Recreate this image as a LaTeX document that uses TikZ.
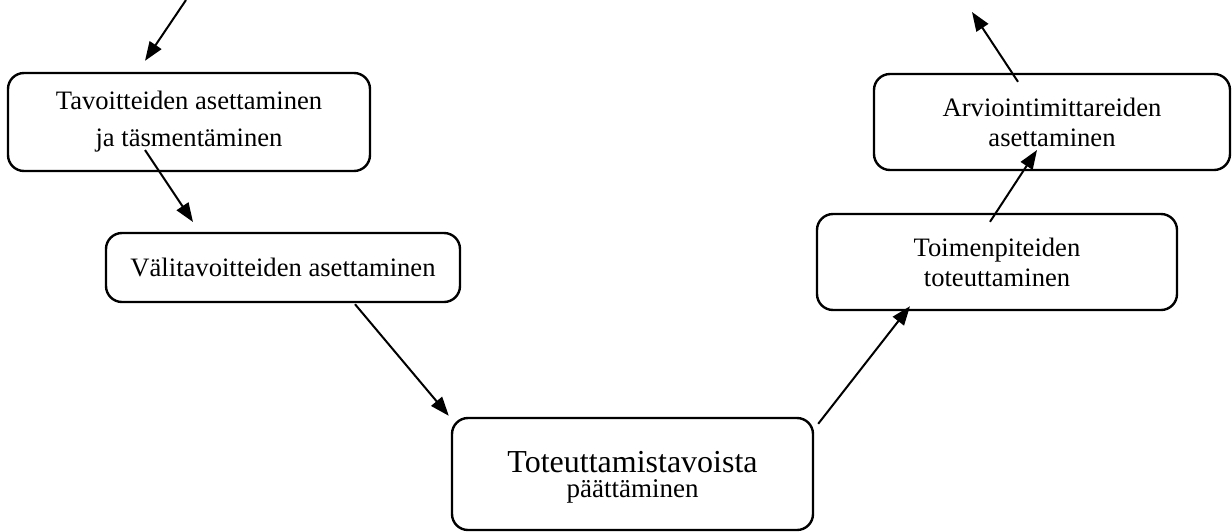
\documentclass[tikz,border=0pt]{standalone}
\usepackage{fontspec}
\setmainfont{Liberation Serif}
\usepackage{tikz}
\usetikzlibrary{arrows.meta}
\tikzset{
	box/.style = {draw, line width=1.2pt, rounded corners=8pt, inner sep=0pt, align=center, font=\fontsize{13.3}{15}\selectfont},
	arr/.style = {line width=1pt, -{Triangle[length=9.5pt,width=7pt]}}
}

\begin{document}
\begin{tikzpicture}[x=0.5pt,y=-0.5pt]
			\useasboundingbox (0,0) rectangle (1232,531);
			\node[box, minimum width=181pt, minimum height=49pt] (tav) at (189,122) {Tavoitteiden asettaminen\\[3.5pt] ja täsmentäminen};
			\node[box, minimum width=177pt, minimum height=34.5pt] (vali) at (283,267.5) {Välitavoitteiden asettaminen};
			\node[box, minimum width=180.5pt, minimum height=56pt] (tote) at (632.5,474) {{\fontsize{16}{16}\selectfont\rule{0pt}{13.5pt}Toteuttamistavoista}\\[-2.5pt] {\fontsize{13.5}{14}\selectfont päättäminen}};
			\node[box, minimum width=180pt, minimum height=48pt] (toim) at (997,262) {Toimenpiteiden\\ toteuttaminen};
			\node[box, minimum width=178pt, minimum height=48pt] (arvi) at (1052,122) {Arviointimittareiden\\ asettaminen};
			\coordinate (in) at (186,0);
			\coordinate (out) at (972,12);
			\draw[arr] (in) -- ([shift={(-44,-11)}]tav.north);
			\draw[arr] ([shift={(-44,28)}]tav.center) -- ([shift={(-90,-45.5)}]vali.center);
			\draw[arr] ([shift={(72,1)}]vali.south) -- ([shift={(-2,-1)}]tote.north west);
			\draw[arr] ([shift={(4,7)}]tote.north east) -- ([shift={(-87,-5)}]toim.south);
			\draw[arr] ([shift={(-7,9)}]toim.north) -- ([shift={(-15,28)}]arvi.center);
			\draw[arr] ([shift={(-34,9)}]arvi.north) -- (out);
			\end{tikzpicture}
\end{document}
